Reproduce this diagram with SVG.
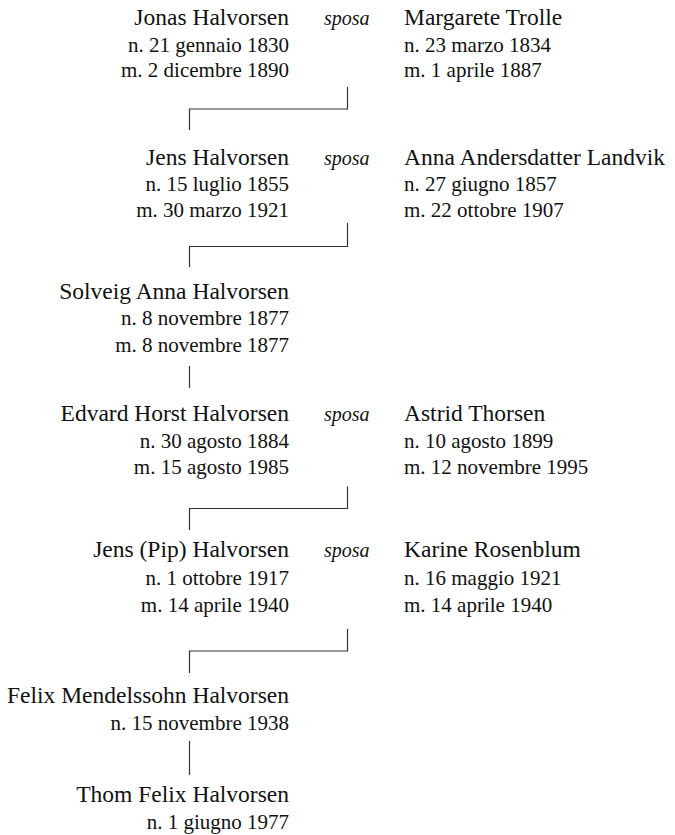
<svg xmlns="http://www.w3.org/2000/svg" width="675" height="835" viewBox="0 0 675 835">
<style>
text { font-family: "Liberation Serif", "Times New Roman", serif; fill: #111; }
.nm { font-size: 23.5px; }
.dt { font-size: 21px; }
.l { text-anchor: end; }
.sp { font-size: 20px; font-style: italic; }
.c { fill: none; stroke: #333; stroke-width: 1.2; }
</style>
<rect width="675" height="835" fill="#fff"/>
<g id="connectors">
<path class="c" d="M347.5,87 V109 H189.5 V130"/>
<path class="c" d="M347.5,223 V246.5 H189.5 V267"/>
<path class="c" d="M189.5,366 V388"/>
<path class="c" d="M347.5,486.5 V508.5 H189.5 V530"/>
<path class="c" d="M347.5,629 V651 H189.5 V673"/>
<path class="c" d="M189.5,741 V775"/>
</g>
<g id="jonas">
<text class="nm l" x="289" y="25">Jonas Halvorsen</text>
<text class="dt l" x="289" y="51.5">n. 21 gennaio 1830</text>
<text class="dt l" x="289" y="77">m. 2 dicembre 1890</text>
</g>
<g id="sposa1"><text class="sp" x="324" y="25">sposa</text></g>
<g id="margarete">
<text class="nm" x="404" y="25">Margarete Trolle</text>
<text class="dt" x="404" y="51.5">n. 23 marzo 1834</text>
<text class="dt" x="404" y="77">m. 1 aprile 1887</text>
</g>
<g id="jens">
<text class="nm l" x="289" y="165">Jens Halvorsen</text>
<text class="dt l" x="289" y="191">n. 15 luglio 1855</text>
<text class="dt l" x="289" y="216.5">m. 30 marzo 1921</text>
</g>
<g id="sposa2"><text class="sp" x="324" y="165">sposa</text></g>
<g id="anna">
<text class="nm" x="404" y="165">Anna Andersdatter Landvik</text>
<text class="dt" x="404" y="191">n. 27 giugno 1857</text>
<text class="dt" x="404" y="216.5">m. 22 ottobre 1907</text>
</g>
<g id="solveig">
<text class="nm l" x="289" y="298.5">Solveig Anna Halvorsen</text>
<text class="dt l" x="289" y="325">n. 8 novembre 1877</text>
<text class="dt l" x="289" y="351.5">m. 8 novembre 1877</text>
</g>
<g id="edvard">
<text class="nm l" x="289" y="421">Edvard Horst Halvorsen</text>
<text class="dt l" x="289" y="447.5">n. 30 agosto 1884</text>
<text class="dt l" x="289" y="473.5">m. 15 agosto 1985</text>
</g>
<g id="sposa3"><text class="sp" x="324" y="421">sposa</text></g>
<g id="astrid">
<text class="nm" x="404" y="421">Astrid Thorsen</text>
<text class="dt" x="404" y="447.5">n. 10 agosto 1899</text>
<text class="dt" x="404" y="473.5">m. 12 novembre 1995</text>
</g>
<g id="jenspip">
<text class="nm l" x="289" y="557">Jens (Pip) Halvorsen</text>
<text class="dt l" x="289" y="585">n. 1 ottobre 1917</text>
<text class="dt l" x="289" y="611.5">m. 14 aprile 1940</text>
</g>
<g id="sposa4"><text class="sp" x="324" y="557">sposa</text></g>
<g id="karine">
<text class="nm" x="404" y="557">Karine Rosenblum</text>
<text class="dt" x="404" y="585">n. 16 maggio 1921</text>
<text class="dt" x="404" y="611.5">m. 14 aprile 1940</text>
</g>
<g id="felix">
<text class="nm l" x="289" y="703">Felix Mendelssohn Halvorsen</text>
<text class="dt l" x="289" y="729.5">n. 15 novembre 1938</text>
</g>
<g id="thom">
<text class="nm l" x="289" y="802">Thom Felix Halvorsen</text>
<text class="dt l" x="289" y="828.5">n. 1 giugno 1977</text>
</g>
</svg>
